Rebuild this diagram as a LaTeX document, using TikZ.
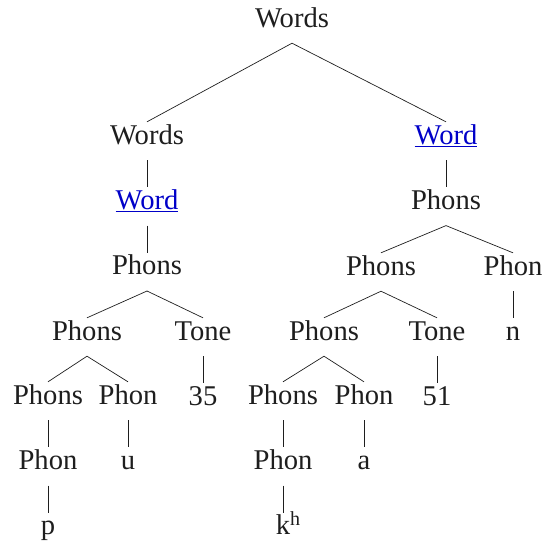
\documentclass[tikz,border=0pt]{standalone}
\usepackage{fontspec}
\setmainfont{Liberation Serif}
\usetikzlibrary{positioning}
\definecolor{ink}{RGB}{30,30,30}
\definecolor{linkblue}{RGB}{0,0,200}
\tikzset{
    lbl/.style={font=\fontsize{28.6}{30}\selectfont, text=ink, anchor=base, text height=12pt, text depth=6pt, inner ysep=10pt, inner xsep=0pt},
    linklbl/.style={lbl, text=linkblue},
    branch/.style={draw=ink, line width=0.7pt},
}

\begin{document}
\begin{tikzpicture}[
    x=1pt, y=-1pt,
    node distance=27pt
]
\useasboundingbox (0,0) rectangle (543,542);

% Top
\node[lbl] (root) at (292,27) {Words};

% Left word
\node[lbl] (wordsL) at (147,144) {Words};
\node[linklbl, below=of wordsL] (wordL) {\underline{Word}};
\node[lbl, below=of wordL] (phonsL) {Phons};
\node[lbl] (phonsLa) at (87,340) {Phons};
\node[lbl] (toneL) at (203,340) {Tone};
\node[lbl] (phonsLb) at (48,404) {Phons};
\node[lbl] (phonL) at (128,404) {Phon};
\node[lbl, below=of toneL] (numL) {35};
\node[lbl, below=of phonsLb] (phonLb) {Phon};
\node[lbl, below=of phonL] (segU) {u};
\node[lbl, below=of phonLb] (segP) {p};

% Right word
\node[linklbl] (wordR) at (446,144) {\underline{Word}};
\node[lbl, below=of wordR] (phonsR) {Phons};
\node[lbl] (phonsRa) at (381,275) {Phons};
\node[lbl] (phonR) at (513,275) {Phon};
\node[lbl] (phonsRb) at (324,340) {Phons};
\node[lbl] (toneR) at (437,340) {Tone};
\node[lbl, below=of phonR] (segN) {n};
\node[lbl] (phonsRc) at (283,404) {Phons};
\node[lbl] (phonRb) at (364,404) {Phon};
\node[lbl, below=of toneR] (numR) {51};
\node[lbl, below=of phonsRc] (phonRc) {Phon};
\node[lbl, below=of phonRb] (segA) {a};
\node[lbl, below=of phonRc] (segKh) {k\rlap{\textsuperscript{h}}};

% Branches
\draw[branch] (wordsL.north) -- (root.south) -- (wordR.north);
\draw[branch] (wordsL) -- (wordL);
\draw[branch] (wordL) -- (phonsL);
\draw[branch] (phonsLa.north) -- (phonsL.south) -- (toneL.north);
\draw[branch] (phonsLb.north) -- (phonsLa.south) -- (phonL.north);
\draw[branch] (toneL) -- (numL);
\draw[branch] (phonsLb) -- (phonLb);
\draw[branch] (phonLb) -- (segP);
\draw[branch] (phonL) -- (segU);

\draw[branch] (wordR) -- (phonsR);
\draw[branch] (phonsRa.north) -- (phonsR.south) -- (phonR.north);
\draw[branch] (phonR) -- (segN);
\draw[branch] (phonsRb.north) -- (phonsRa.south) -- (toneR.north);
\draw[branch] (toneR) -- (numR);
\draw[branch] (phonsRc.north) -- (phonsRb.south) -- (phonRb.north);
\draw[branch] (phonsRc) -- (phonRc);
\draw[branch] (phonRc) -- (segKh);
\draw[branch] (phonRb) -- (segA);

\end{tikzpicture}
\end{document}
